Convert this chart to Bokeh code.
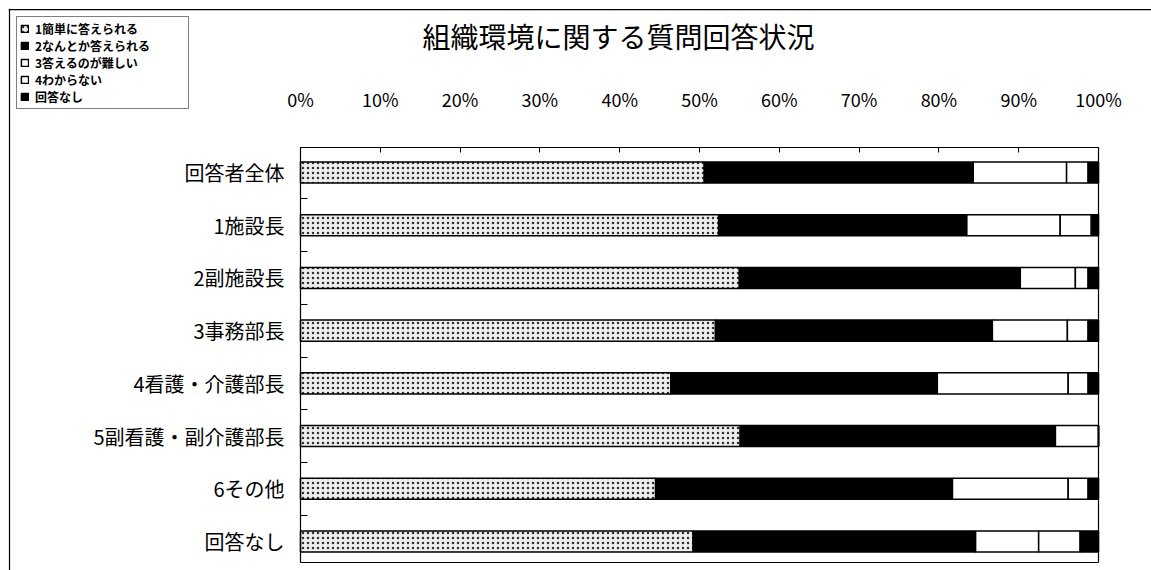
from bokeh.plotting import figure
from bokeh.models import (Range1d, FixedTicker, PrintfTickFormatter, Legend, LegendItem,
                          Label, LinearAxis, Span)
from bokeh.embed import file_html
from bokeh.resources import INLINE

# ---------------- data ----------------
title_text = "組織環境に関する質問回答状況"
categories = ["回答者全体", "1施設長", "2副施設長", "3事務部長", "4看護・介護部長",
              "5副看護・副介護部長", "6その他", "回答なし"]
series_names = ["1簡単に答えられる", "2なんとか答えられる", "3答えるのが難しい", "4わからない", "回答なし"]

s1_easy = [50.6, 52.4, 55.0, 52.0, 46.4, 55.1, 44.5, 49.2]
s2_somehow = [33.7, 31.1, 35.2, 34.7, 33.4, 39.5, 37.2, 35.4]
s3_difficult = [11.7, 11.7, 6.9, 9.4, 16.4, 5.4, 14.5, 7.9]
s4_unknown = [2.7, 3.9, 1.6, 2.6, 2.5, 0.0, 2.5, 5.2]
s5_noanswer = [1.3, 0.9, 1.3, 1.3, 1.3, 0.0, 1.3, 2.3]

x_ticks = [0, 10, 20, 30, 40, 50, 60, 70, 80, 90, 100]

# ---------------- layout / style ----------------
JP = "Noto Sans CJK JP"
X_START, X_END = -36.59, 106.64
Y_BOTTOM, Y_TOP = 7.55, -3.111
BOX_TOP, BOX_BOTTOM = -0.474, 7.398      # plot box edges in category units

p = figure(width=1151, height=570, title=None, output_backend="svg", toolbar_location=None,
           x_range=Range1d(X_START, X_END), y_range=Range1d(Y_BOTTOM, Y_TOP),
           x_axis_location="above", y_axis_location="left",
           min_border_left=8, min_border_top=8, min_border_right=0, min_border_bottom=0)

p.xgrid.visible = False
p.ygrid.visible = False
p.outline_line_color = None
p.background_fill_color = "white"
p.border_fill_color = "white"

# outer chart border (left and top edges)
p.add_layout(Span(location=X_START + 0.12, dimension="height", line_color="black", line_width=1.3))
p.add_layout(Span(location=Y_TOP + 0.02, dimension="width", line_color="black", line_width=1.3))

ys = list(range(len(categories)))
series = [s1_easy, s2_somehow, s3_difficult, s4_unknown, s5_noanswer]
styles = [
    dict(fill_color="#eeeeee", hatch_pattern="dot", hatch_color="black", hatch_scale=5,
         hatch_weight=1.8, hatch_alpha=0.8),
    dict(fill_color="black"),
    dict(fill_color="white"),
    dict(fill_color="white"),
    dict(fill_color="black"),
]

left = [0.0] * len(categories)
renderers = []
for vals, st in zip(series, styles):
    right = [l + v for l, v in zip(left, vals)]
    r = p.hbar(y=ys, left=left, right=right, height=0.4,
               line_color="black", line_width=1.5, **st)
    renderers.append(r)
    left = right

legend = Legend(items=[LegendItem(label=n, renderers=[r]) for n, r in zip(series_names, renderers)],
                location="top_left", margin=8,
                label_text_font=JP, label_text_font_size="12px", label_text_font_style="bold",
                label_text_color="black",
                label_height=15, label_width=150, glyph_height=9, glyph_width=9, label_standoff=6,
                spacing=0, padding=3,
                border_line_color="black", border_line_width=1.3,
                background_fill_color="white", background_fill_alpha=1.0)
p.add_layout(legend)

p.add_layout(Label(x=39.85, y=-2.58, text=title_text, text_align="center", text_baseline="middle",
                   text_font=JP, text_font_size="28px", text_color="black"))

# top x axis (drawn on the plot box's top edge)
xa = p.xaxis[0]
xa.fixed_location = BOX_TOP
xa.bounds = (0, 100)
xa.ticker = FixedTicker(ticks=x_ticks)
xa.formatter = PrintfTickFormatter(format="%d%%")
xa.major_tick_in = 5
xa.major_tick_out = 0
xa.minor_tick_in = 0
xa.minor_tick_out = 0
xa.major_label_standoff = 36
xa.major_label_text_font = JP
xa.major_label_text_font_size = "18px"
xa.major_label_text_color = "black"
xa.axis_line_color = "black"
xa.axis_line_width = 1.2
xa.major_tick_line_color = "black"

# left y axis (category labels)
ya = p.yaxis[0]
ya.fixed_location = 0
ya.bounds = (BOX_TOP, BOX_BOTTOM)
ya.ticker = FixedTicker(ticks=ys, minor_ticks=[i + 0.5 for i in ys[:-1]])
ya.major_label_overrides = {i: c for i, c in enumerate(categories)}
ya.major_tick_in = 0
ya.major_tick_out = 0
ya.minor_tick_in = 7
ya.minor_tick_out = 0
ya.minor_tick_line_color = "black"
ya.major_label_standoff = 16
ya.major_label_text_font = JP
ya.major_label_text_font_size = "20px"
ya.major_label_text_color = "black"
ya.axis_line_color = "black"
ya.axis_line_width = 1.2

# right and bottom edges of the plot box
ra = LinearAxis(fixed_location=100, bounds=(BOX_TOP, BOX_BOTTOM), ticker=FixedTicker(ticks=[]),
                major_tick_in=0, major_tick_out=0, minor_tick_in=0, minor_tick_out=0,
                major_label_text_font_size="0px", axis_line_color="black", axis_line_width=1.2)
p.add_layout(ra, "right")
ba = LinearAxis(fixed_location=BOX_BOTTOM, bounds=(0, 100), ticker=FixedTicker(ticks=[]),
                major_tick_in=0, major_tick_out=0, minor_tick_in=0, minor_tick_out=0,
                major_label_text_font_size="0px", axis_line_color="black", axis_line_width=1.2)
p.add_layout(ba, "below")

open("out.html", "w").write(file_html(p, INLINE))
